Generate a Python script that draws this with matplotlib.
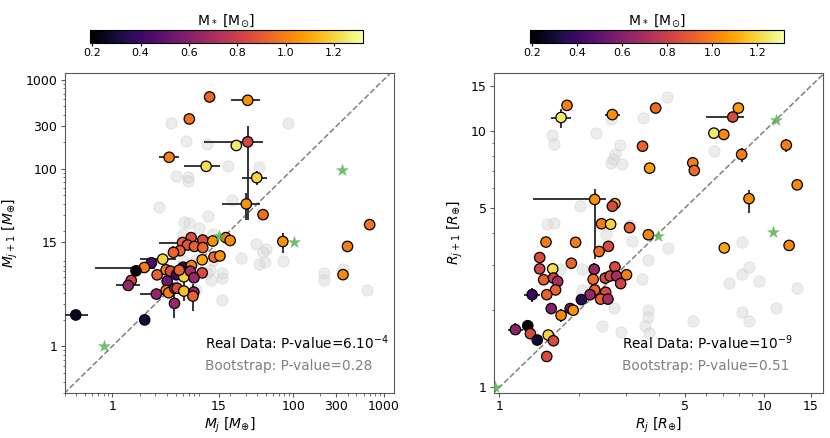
import matplotlib
matplotlib.use('Agg')
import matplotlib.pyplot as plt
import numpy as np
from matplotlib.ticker import FixedLocator, FixedFormatter, NullFormatter

# ---- masa: planeta j, planeta j+1, masa gwiazdy ----
m_j  = [11.9, 31.4, 7.1, 23.5, 31.4, 4.25, 10.9, 39.5, 30.3, 46.4, 700, 398, 355, 76.7,
        0.395, 2.28, 7.45, 10.0, 5.97, 6.78, 8.1, 10.0, 12.9, 18.0, 20.1, 5.58, 4.74,
        3.61, 2.71, 2.26, 1.83, 1.62, 1.5, 3.13, 3.94, 4.4, 4.04, 5.12, 6.07, 6.18, 7.5,
        9.86, 13.3, 15.5, 9.86, 3.94, 4.2, 4.91, 5.2, 3.07, 6.18, 7.97, 7.78, 4.87,
        7.3, 8.0, 5.5]
m_j1 = [640, 587, 362, 182, 200, 134, 106, 79, 40, 30.3, 23.4, 13.3, 6.4, 15.1,
        2.25, 1.98, 16.7, 15.7, 14.7, 13.8, 13.3, 12.9, 15.3, 16.7, 15.5, 11.9, 11.4,
        9.55, 8.7, 7.7, 7.07, 5.5, 4.84, 6.37, 7.25, 7.0, 5.41, 6.37, 7.77, 6.05, 8.1,
        9.4, 10.1, 10.4, 6.7, 4.25, 4.0, 4.48, 4.5, 3.87, 4.18, 4.07, 3.67, 3.04,
        7.0, 5.9, 7.2]
mstar_m = [0.93, 1.05, 0.97, 1.25, 0.83, 1.0, 1.22, 1.2, 1.05, 0.95, 0.97, 1.0, 1.02, 1.05,
           0.25, 0.3, 0.85, 0.85, 0.92, 0.88, 0.92, 0.93, 1.05, 1.0, 1.03, 0.92, 0.93,
           1.2, 0.45, 1.0, 0.2, 0.82, 0.65, 0.92, 1.0, 0.85, 0.55, 0.4, 0.35, 1.2, 1.0,
           1.1, 0.95, 1.05, 0.85, 1.02, 1.0, 0.7, 0.85, 0.65, 1.15, 0.65, 0.92, 0.65,
           0.7, 0.65, 0.92]

# bledy (indeks, x_min, x_max, y_min, y_max)
m_err_idx = [1, 4, 5, 6, 7, 8, 13, 14, 29, 18, 27, 49, 32, 53, 52, 50, 26]
m_err_x = [(20.5, 43), (10.4, 46), (3.26, 5.48), (6.23, 15.5), (27.4, 51.9), (16.4, 43),
           None, (0.29, 0.54), (0.64, 3.0), (3.26, 8.0), (2.0, 5.0), (2.0, 4.5), (1.1, 2.0),
           None, None, None, None]
m_err_y = [None, (26.4, 300), None, None, (65.2, 93.7), (26.4, 52.6),
           (11.2, 18.7), None, None, None, None, None, None,
           (2.1, 4.0), (2.5, 5.0), (3.2, 5.5), (9.5, 13.5)]

# bootstrap (szare)
m_j_bs  = [4.4, 87, 6.6, 11.0, 18.8, 41.9, 5.04, 6.84, 6.84, 21.0, 3.29, 11.3, 6.18, 7.0,
           9.14, 6.07, 13.1, 38.8, 50, 46, 26.2, 41.9, 48.9, 76.7, 6.07, 8.5, 12.0, 16.2,
           16.2, 12.2, 8.5, 16.4, 217, 217, 355, 655, 11, 13.1]
m_j1_bs = [327, 327, 202, 187, 108, 105, 83, 81, 72, 44, 37, 29.3, 25.1, 24.2,
           21.3, 18.4, 18.5, 14.2, 12.6, 11.6, 9.9, 8.5, 8.8, 9.0, 9.0, 9.4, 7.25, 6.65,
           5.85, 5.6, 4.33, 3.28, 6.65, 5.5, 7.4, 4.33, 6.65, 9.4]
m_star_x = [0.82, 349, 102, 15.1]
m_star_y = [1.0, 96, 14.8, 17.6]

# ---- promienie ----
r_j  = [1.8, 1.71, 2.67, 3.89, 7.98, 7.6, 6.45, 7.03, 3.47, 8.21, 12.1, 5.37, 5.44, 3.69,
        13.3, 8.75, 2.29, 2.73, 2.67, 2.43, 2.63, 3.1, 3.65, 1.5, 1.94, 2.58, 2.38, 7.06,
        12.4, 1.42, 1.87, 1.42, 1.59, 2.28, 2.73, 1.47, 1.6, 1.66, 2.26, 2.51, 2.62, 2.77,
        2.87, 3.02, 1.63, 1.51, 1.33, 2.29, 2.2, 2.52, 2.04, 2.41, 2.57, 1.57, 1.85, 1.9,
        1.71, 1.28, 1.15, 1.31, 1.39, 1.53, 1.6, 1.51]
r_j1 = [12.6, 11.3, 11.6, 12.3, 12.3, 11.35, 9.82, 9.7, 8.73, 8.11, 8.82, 7.52, 7.02, 7.17,
        6.17, 5.45, 5.41, 5.21, 5.09, 4.35, 4.33, 4.2, 3.94, 3.69, 3.68, 3.55, 3.39, 3.5,
        3.58, 3.21, 3.05, 2.9, 2.9, 2.89, 2.95, 2.63, 2.67, 2.59, 2.64, 2.67, 2.72, 2.72,
        2.54, 2.75, 2.4, 2.3, 2.3, 2.4, 2.3, 2.35, 2.2, 2.21, 2.21, 2.03, 2.03, 2.0,
        1.91, 1.74, 1.68, 1.62, 1.53, 1.6, 1.52, 1.32]
mstar_r = [1.0, 1.25, 1.05, 0.95, 1.07, 0.85, 1.25, 1.02, 0.92, 1.0, 1.0, 1.0, 0.95, 1.08,
           1.02, 1.03, 1.05, 1.12, 0.85, 1.0, 1.2, 0.92, 1.02, 1.0, 1.0, 0.85, 0.95, 1.1,
           1.02, 0.85, 0.93, 0.82, 1.22, 0.65, 0.85, 0.92, 0.8, 0.7, 0.95, 0.85, 0.82, 0.7,
           0.82, 1.0, 0.92, 0.92, 0.4, 0.92, 0.65, 0.85, 0.35, 0.92, 0.7, 0.6, 0.55, 1.05,
           1.02, 0.2, 0.62, 0.85, 0.3, 1.2, 0.85, 0.85]

r_err_idx = [1, 2, 5, 9, 10, 15, 16, 46, 58, 56, 22, 33]
r_err_x = [(1.56, 1.87), (2.5, 2.85), (6.03, 8.4), (7.8, 8.6), None, None, (1.34, 2.52),
           (1.24, 1.43), (1.08, 1.23), (1.65, 1.78), None, (2.18, 2.38)]
r_err_y = [(10.3, 12.2), None, None, (7.6, 8.6), (8.3, 9.3), (4.8, 5.9), (3.17, 5.95),
           (2.15, 2.45), (1.6, 1.78), (1.8, 2.02), (3.75, 4.1), (2.75, 3.05)]

r_j_bs  = [4.3, 3.47, 2.64, 1.58, 1.61, 2.32, 2.85, 2.72, 2.63, 2.91, 2.69, 6.44, 2.01, 1.51,
           1.61, 2.52, 3.18, 4.32, 3.1, 8.21, 3.65, 1.7, 2.05, 3.45, 8.21, 8.75, 7.38, 9.57,
           13.3, 2.05, 2.71, 3.63, 3.63, 11.1, 8.21, 8.73, 5.37, 2.44, 3.56, 2.88, 3.66]
r_j1_bs = [13.6, 11.3, 11.1, 9.68, 8.87, 9.82, 8.82, 8.11, 7.52, 7.47, 7.75, 8.33, 5.1, 4.34,
           4.38, 3.95, 3.74, 3.5, 4.31, 3.7, 3.13, 2.9, 2.9, 2.65, 2.77, 2.94, 2.55, 2.6,
           2.44, 2.4, 2.04, 2.01, 1.88, 2.04, 1.96, 1.81, 1.81, 1.74, 1.73, 1.64, 1.63]
r_star_x = [0.963, 11.07, 10.8, 3.98]
r_star_y = [1.0, 11.0, 4.03, 3.89]

cbar_ticks = [0.2, 0.4, 0.6, 0.8, 1.0, 1.2]
vmin, vmax = 0.19, 1.32


def panel(ax, x, y, c, idx, ex, ey, xb, yb, sx, sy, lim_x, lim_y):
    ax.plot([1e-2, 1e4], [1e-2, 1e4], '--', color='gray', lw=1.1, zorder=1)
    ax.scatter(xb, yb, s=66, color='0.84', alpha=0.45, edgecolor='0.78', lw=0.6, zorder=2)
    for i, xe, ye in zip(idx, ex, ey):
        xerr = None if xe is None else [[x[i] - xe[0]], [xe[1] - x[i]]]
        yerr = None if ye is None else [[y[i] - ye[0]], [ye[1] - y[i]]]
        ax.errorbar([x[i]], [y[i]], xerr=xerr, yerr=yerr, fmt='none',
                    ecolor='0.15', elinewidth=1.3, zorder=3)
    sc = ax.scatter(x, y, c=c, cmap='inferno', vmin=vmin, vmax=vmax, s=56,
                    edgecolor='black', lw=0.9, zorder=4)
    ax.scatter(sx, sy, marker='*', s=100, color='#4daf4a', alpha=0.8, lw=0, zorder=5)
    ax.set_xscale('log')
    ax.set_yscale('log')
    ax.set_xlim(*lim_x)
    ax.set_ylim(*lim_y)
    for s in ax.spines.values():
        s.set_color('0.35')
    ax.tick_params(which='major', labelsize=9, length=3, pad=2.5, color='0.35')
    ax.tick_params(which='minor', length=1.8, color='0.35')
    return sc


fig = plt.figure(figsize=(8.3, 4.38), dpi=100)
ax1 = fig.add_axes([0.0783, 0.1034, 0.3964, 0.7306])
ax2 = fig.add_axes([0.5955, 0.1034, 0.3957, 0.7306])

sc1 = panel(ax1, m_j, m_j1, mstar_m, m_err_idx, m_err_x, m_err_y, m_j_bs, m_j1_bs,
            m_star_x, m_star_y, (0.3, 1300), (0.3, 1200))
sc2 = panel(ax2, r_j, r_j1, mstar_r, r_err_idx, r_err_x, r_err_y, r_j_bs, r_j1_bs,
            r_star_x, r_star_y, (0.957, 16.6), (0.953, 16.9))

m_ticks = [1, 15, 100, 300, 1000]
r_ticks = [1, 5, 10, 15]
for a, t in [(ax1, m_ticks), (ax2, r_ticks)]:
    a.xaxis.set_major_locator(FixedLocator(t))
    a.xaxis.set_major_formatter(FixedFormatter([str(v) for v in t]))
    a.yaxis.set_major_locator(FixedLocator(t))
    a.yaxis.set_major_formatter(FixedFormatter([str(v) for v in t]))
    a.xaxis.set_minor_formatter(NullFormatter())
    a.yaxis.set_minor_formatter(NullFormatter())

ax1.set_xlabel(r'$M_j\ [M_{\oplus}]$', fontsize=10, labelpad=2)
ax1.set_ylabel(r'$M_{j+1}\ [M_{\oplus}]$', fontsize=10, labelpad=4)
ax2.set_xlabel(r'$R_j\ [R_{\oplus}]$', fontsize=10, labelpad=2)
ax2.set_ylabel(r'$R_{j+1}\ [R_{\oplus}]$', fontsize=10, labelpad=4)

ax1.text(0.426, 0.155, r'Real Data: P-value=6.10$^{-4}$', transform=ax1.transAxes,
         fontsize=9.8, va='center')
ax1.text(0.426, 0.083, 'Bootstrap: P-value=0.28', transform=ax1.transAxes,
         fontsize=9.8, va='center', color='gray')
ax2.text(0.389, 0.155, r'Real Data: P-value=10$^{-9}$', transform=ax2.transAxes,
         fontsize=9.8, va='center')
ax2.text(0.389, 0.083, 'Bootstrap: P-value=0.51', transform=ax2.transAxes,
         fontsize=9.8, va='center', color='gray')

for sc, pos in [(sc1, [0.1081, 0.9025, 0.3293, 0.029]),
                (sc2, [0.6382, 0.9025, 0.3067, 0.029])]:
    cax = fig.add_axes(pos)
    cb = fig.colorbar(sc, cax=cax, orientation='horizontal', ticks=cbar_ticks)
    cb.ax.tick_params(labelsize=8, length=2.5, pad=1.5)
    cb.ax.set_title(r'M$_*$ [M$_{\odot}$]', fontsize=10, pad=4)

fig.savefig('out.png', dpi=100)
